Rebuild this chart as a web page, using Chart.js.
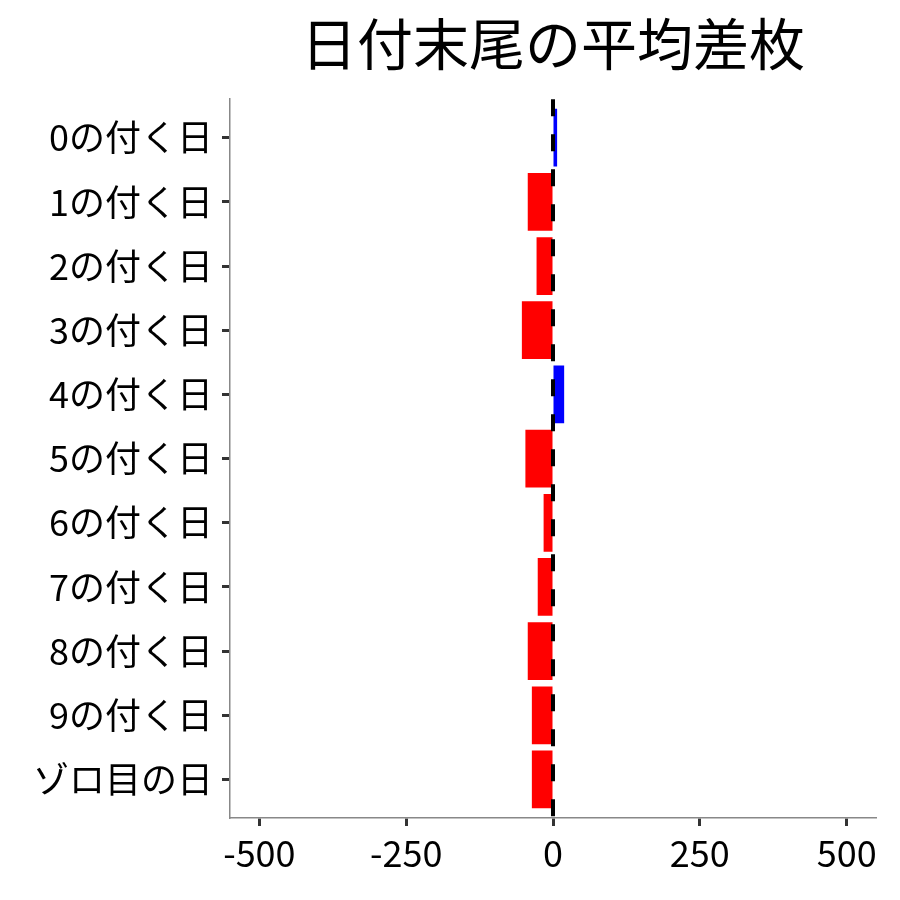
<!DOCTYPE html>
<html>
<head>
<meta charset="utf-8">
<script src="https://cdn.jsdelivr.net/npm/chart.js@4"></script>
<style>
  html, body { margin: 0; padding: 0; background: #fff; }
  #wrap { width: 900px; height: 900px; }
</style>
</head>
<body>
<div id="wrap"><canvas id="myChart" width="900" height="900"></canvas></div>
<script>
const ctx = document.getElementById("myChart").getContext("2d");
const FONT = "'Noto Sans CJK JP', 'Noto Sans', sans-serif";

// data
const categories = ["0の付く日", "1の付く日", "2の付く日", "3の付く日", "4の付く日",
  "5の付く日", "6の付く日", "7の付く日", "8の付く日", "9の付く日", "ゾロ目の日"];
const diffValues = [7, -43, -28, -53, 19, -47, -16, -26, -43, -36, -36];
const xTicks = [-500, -250, 0, 250, 500];

const points = diffValues.map((v, i) => ({ x: v, y: i }));
const barColors = diffValues.map((v) => (v >= 0 ? "#0000ff" : "#ff0000"));

// dashed line at zero
const zeroLine = {
  id: "zeroLine",
  afterDatasetsDraw(chart) {
    const { ctx, chartArea, scales } = chart;
    const x = scales.x.getPixelForValue(0);
    ctx.save();
    ctx.strokeStyle = "#000";
    ctx.lineWidth = 4;
    ctx.setLineDash([17, 18]);
    ctx.beginPath();
    ctx.moveTo(x, chartArea.top);
    ctx.lineTo(x, chartArea.bottom);
    ctx.stroke();
    ctx.restore();
  },
};

new Chart(ctx, {
  type: "bar",
  data: {
    datasets: [
      {
        data: points,
        backgroundColor: barColors,
        borderWidth: 0,
        barPercentage: 0.9,
        categoryPercentage: 1,
      },
    ],
  },
  options: {
    responsive: false,
    animation: false,
    indexAxis: "y",
    layout: { padding: { left: 0, right: 24, top: 0, bottom: 0 } },
    plugins: {
      legend: { display: false },
      tooltip: { enabled: false },
      title: {
        display: true,
        text: "日付末尾の平均差枚",
        fullSize: false,
        color: "#000",
        font: { family: FONT, size: 56, weight: "normal" },
        padding: { top: 10, bottom: 22 },
      },
    },
    scales: {
      x: {
        type: "linear",
        min: -550,
        max: 550,
        afterBuildTicks(scale) {
          scale.ticks = xTicks.map((v) => ({ value: v }));
        },
        afterFit(scale) {
          scale.height = 82;
        },
        grid: {
          drawOnChartArea: false,
          tickLength: 8,
          tickWidth: 3,
          tickColor: "#333",
        },
        border: { color: "#888", width: 1.5 },
        ticks: {
          color: "#000",
          padding: 6,
          maxRotation: 0,
          font: { family: FONT, size: 36 },
        },
      },
      y: {
        type: "linear",
        min: -0.6,
        max: categories.length - 0.4,
        reverse: true,
        offset: false,
        afterBuildTicks(scale) {
          scale.ticks = categories.map((_, i) => ({ value: i }));
        },
        afterFit(scale) {
          scale.width = 230;
        },
        grid: {
          offset: false,
          drawOnChartArea: false,
          tickLength: 8,
          tickWidth: 3,
          tickColor: "#333",
        },
        border: { color: "#888", width: 1.5 },
        ticks: {
          color: "#000",
          padding: 9,
          autoSkip: false,
          font: { family: FONT, size: 36 },
          callback(value) {
            return categories[value];
          },
        },
      },
    },
  },
  plugins: [zeroLine],
});
</script>
</body>
</html>
